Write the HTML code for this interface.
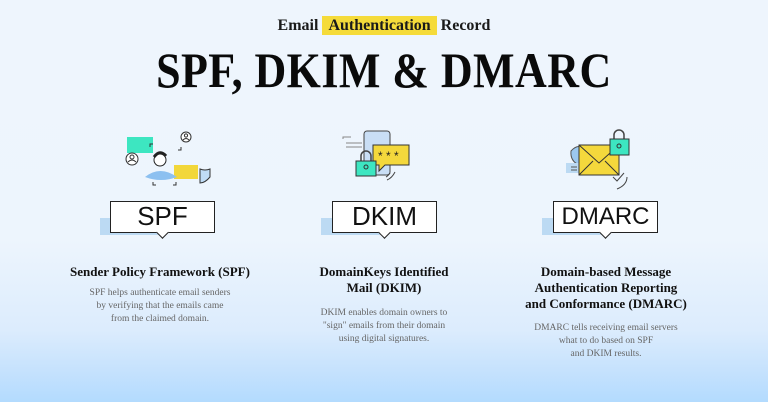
<!DOCTYPE html>
<html><head><meta charset="utf-8"><style>
*{margin:0;padding:0;box-sizing:border-box}
body{width:768px;height:402px;overflow:hidden;position:relative;
background:linear-gradient(to bottom,#eef5fd 0px,#edf5fd 240px,#dcecfd 330px,#c6e2fd 370px,#b3dbfe 402px);
font-family:"Liberation Serif",serif;color:#111}
.a{position:absolute}
.c{text-align:center;white-space:nowrap}
.sub{left:0;width:768px;top:14px;font-size:16px;font-weight:bold;line-height:24px;color:#1a1a1a}
.sub span.h{background:#f5db3a;padding:1px 6px}
.title{left:0;width:768px;top:42px;font-size:50px;font-weight:bold;line-height:56px;color:#0a0a0a}
.title span{display:inline-block;transform:scaleX(0.88);letter-spacing:0.5px}
.bar{background:#bcdaf3;height:17px;top:218px}
.box{top:201px;height:32px;background:#fff;border:1.5px solid #222;font-family:"Liberation Sans",sans-serif;font-size:26px;line-height:29px;text-align:center;color:#111}
.tip{width:9px;height:9px;background:#fff;border-right:1.5px solid #222;border-bottom:1.5px solid #222;transform:rotate(45deg);top:228px}
.hd{font-size:13px;font-weight:bold;line-height:16px;color:#111}
.ds{font-size:9.5px;line-height:13px;color:#666}
</style></head><body>
<div class="a c sub">Email <span class="h">Authentication</span> Record</div>
<div class="a c title"><span>SPF, DKIM &amp; DMARC</span></div>

<!-- SPF icon -->
<svg class="a" style="left:110px;top:125px" width="110" height="70" viewBox="0 0 110 70">
<rect x="17" y="12" width="26" height="16" fill="#3de6c1"/>
<path d="M40 22v-3h3" stroke="#333" fill="none" stroke-width="1"/>
<circle cx="22" cy="34" r="6" fill="#fff" stroke="#333"/><circle cx="22" cy="32" r="2" fill="none" stroke="#333"/><path d="M18 37q4-4 8 0" stroke="#333" fill="none"/>
<circle cx="76" cy="12" r="5" fill="#fff" stroke="#333"/><circle cx="76" cy="10.5" r="1.6" fill="none" stroke="#333"/><path d="M73 15q3-3 6 0" stroke="#333" fill="none"/>
<rect x="64" y="40" width="24" height="14" fill="#f2d73a"/>
<path d="M35 52q15-12 32 0q-16 6-32 0z" fill="#8cc0f0"/>
<circle cx="50" cy="35" r="6" fill="#fff" stroke="#222"/><path d="M44 32q6-8 12-1" stroke="#222" stroke-width="3" fill="none"/>
<path d="M90 44q5 2 10 0v8q-5 6-10 6z" fill="#bfdcf6" stroke="#333"/>
<path d="M43 57v3h3M66 57v3h-3M68 25h3v-3" stroke="#333" fill="none"/>
</svg>
<!-- DKIM icon -->
<svg class="a" style="left:340px;top:127px" width="100" height="65" viewBox="0 0 100 65">
<path d="M3 12v-2h8M6 16h16M6 20h16" stroke="#888" fill="none"/>
<rect x="24" y="4" width="26" height="44" rx="3" fill="#c9def5" stroke="#444"/>
<path d="M33 18h36v20h-24l-6 6v-6h-6z" fill="#f4d83c" stroke="#333"/>
<text x="38" y="33" font-size="12" font-family="Liberation Sans" fill="#222">* * *</text>
<path d="M21 34v-5a5 5 0 0 1 10 0v5" stroke="#444" fill="none" stroke-width="1.5"/>
<rect x="16" y="34" width="20" height="15" fill="#3de6c1" stroke="#333"/>
<circle cx="26" cy="40" r="2" fill="none" stroke="#333"/>
<path d="M55 45q-3 6-8 8M50 46q-2 3-4 4" stroke="#444" fill="none"/>
</svg>
<!-- DMARC icon -->
<svg class="a" style="left:565px;top:127px" width="90" height="65" viewBox="-12 0 90 65">
<path d="M-6 24q8-9 16 0q1 10-8 14q-9-4-8-14z" fill="#9cc8ef" stroke="#555"/>
<rect x="-11" y="36" width="26" height="10" fill="#bcdaf3"/>
<path d="M-6 40h6M-6 43h6" stroke="#555"/>
<rect x="2" y="18" width="40" height="30" fill="#f4d83c" stroke="#333"/>
<path d="M2 18l20 18l20-18M2 48l14-14M42 48l-14-14" stroke="#333" fill="none"/>
<path d="M37 12v-4a5 5 0 0 1 10 0v4" stroke="#444" fill="none" stroke-width="1.5"/>
<rect x="33" y="12" width="19" height="16" fill="#3de6c1" stroke="#333"/>
<circle cx="42" cy="19" r="2" fill="none" stroke="#333"/>
<path d="M36 50l4 4l7-8M50 50q0 8-10 12" stroke="#444" fill="none"/>
</svg>

<!-- label boxes -->
<div class="a bar" style="left:100px;width:62px"></div>
<div class="a box" style="left:110px;width:105px">SPF</div>
<div class="a tip" style="left:158px"></div>
<div class="a bar" style="left:321px;width:60px"></div>
<div class="a box" style="left:332px;width:105px">DKIM</div>
<div class="a tip" style="left:380px"></div>
<div class="a bar" style="left:542px;width:60px"></div>
<div class="a box" style="left:553px;width:105px;font-size:24px">DMARC</div>
<div class="a tip" style="left:601px"></div>

<div class="a c hd" style="left:60px;width:200px;top:264px">Sender Policy Framework (SPF)</div>
<div class="a c ds" style="left:60px;width:200px;top:287px">SPF helps authenticate email senders<br>by verifying that the emails came<br>from the claimed domain.</div>

<div class="a c hd" style="left:284px;width:200px;top:264px">DomainKeys Identified<br>Mail (DKIM)</div>
<div class="a c ds" style="left:284px;width:200px;top:307px">DKIM enables domain owners to<br>"sign" emails from their domain<br>using digital signatures.</div>

<div class="a c hd" style="left:506px;width:200px;top:264px">Domain-based Message<br>Authentication Reporting<br>and Conformance (DMARC)</div>
<div class="a c ds" style="left:506px;width:200px;top:322px">DMARC tells receiving email servers<br>what to do based on SPF<br>and DKIM results.</div>
</body></html>
